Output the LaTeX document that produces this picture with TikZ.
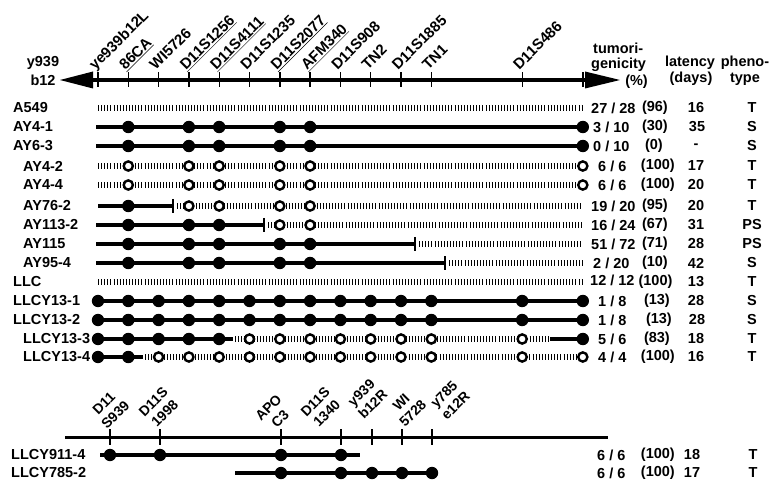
\documentclass[tikz,border=0pt]{standalone}
\usepackage{fontspec}
\setmainfont{Liberation Sans}
\tikzset{
  solidln/.style={line width=4.8pt},
  hatchln/.style={line width=5.5pt, dash pattern=on 1pt off 2.1pt},
  odot/.style={draw=black, line width=2.4pt, fill=white},
  endbar/.style={line width=2.6pt},
  axisln/.style={line width=3.4pt},
  tickln/.style={line width=1.4pt},
  rowlbl/.style={font=\bfseries\fontsize{14.5}{15}\selectfont, inner sep=0pt, anchor=west},
  txt/.style={font=\bfseries\fontsize{14.5}{15}\selectfont, inner sep=0pt},
  mk/.style={font=\bfseries\fontsize{15}{15}\selectfont, inner sep=0pt, rotate=45, anchor=base west},
  mktwo/.style={font=\bfseries\fontsize{14}{14}\selectfont, inner sep=0pt, rotate=45},
}
\newcommand\FillDots[2]{\foreach \k in {#2} {\fill ({98+30.3*\k},#1) circle (6.2pt);}}
\newcommand\OpenDots[2]{\foreach \k in {#2} {\draw[odot] ({98+30.3*\k},#1) circle (4.6pt);}}
\begin{document}
\begin{tikzpicture}[x=1pt,y=-1pt]
\useasboundingbox (0,0) rectangle (781,486);
% ---------- top axis ----------
\coordinate (axL) at (92,80);
\coordinate (axR) at (586,80);
\draw[axisln] (axL) -- (axR);
\fill (60,80) -- (93,71.5) -- (93,88.5) -- cycle;
\fill (620,80) -- (585,71.5) -- (585,88.5) -- cycle;
\foreach \k in {0,...,11,14,16} {\draw[tickln] ({98+30.3*\k},72.5) -- ({98+30.3*\k},87.5);}
\node[txt] (ya) at (43,63) {y939};
\node[txt] (yb) at (43,80) {b12};
% marker labels
\node[mk] (m0) at ({98+30.3*0-3},71) {ye939b12L};
\node[mk] (m1) at ({98+30.3*1-3},71) {\underline{86CA}};
\node[mk] (m2) at ({98+30.3*2-3},71) {WI5726};
\node[mk] (m3) at ({98+30.3*3-3},71) {\underline{D11S1256}};
\node[mk] (m4) at ({98+30.3*4-3},71) {\underline{D11S4111}};
\node[mk] (m5) at ({98+30.3*5-3},71) {D11S1235};
\node[mk] (m6) at ({98+30.3*6-3},71) {\underline{D11S2077}};
\node[mk] (m7) at ({98+30.3*7-3},71) {\underline{AFM340}};
\node[mk] (m8) at ({98+30.3*8-3},71) {D11S908};
\node[mk] (m9) at ({98+30.3*9-3},71) {TN2};
\node[mk] (m10) at ({98+30.3*10-3},71) {D11S1885};
\node[mk] (m11) at ({98+30.3*11-3},71) {TN1};
\node[mk] (m14) at ({98+30.3*14-3},71) {D11S486};
% column headers
\node[txt, anchor=west] (h1) at (593,48) {tumori-};
\node[txt, anchor=west] (h2) at (591,65) {genicity};
\node[txt, anchor=east] (h3) at (648,82) {(\%)};
\node[txt] (h4) at (690,63) {latency};
\node[txt] (h5) at (691,79) {(days)};
\node[txt] (h6) at (745,63) {pheno-};
\node[txt] (h7) at (745,79) {type};
% ---------- rows ----------
\node[rowlbl] (r1) at (13,108) {A549};
\draw[hatchln] (98,108) -- (583,108);
\node[rowlbl] (r2) at (13,127) {AY4-1};
\draw[solidln] (96,127) -- (583,127);
\FillDots{127}{1,3,4,6,7,16}
\node[rowlbl] (r3) at (13,146) {AY6-3};
\draw[solidln] (96,146) -- (583,146);
\FillDots{146}{1,3,4,6,7,16}
\node[rowlbl] (r4) at (23,166) {AY4-2};
\draw[hatchln] (98,166) -- (583,166);
\OpenDots{166}{1,3,4,6,7,16}
\node[rowlbl] (r5) at (23,185) {AY4-4};
\draw[hatchln] (98,185) -- (583,185);
\OpenDots{185}{1,3,4,6,7,16}
\node[rowlbl] (r6) at (23,206) {AY76-2};
\draw[solidln] (98,206) -- (173,206);
\draw[endbar] (173,199) -- (173,213);
\draw[hatchln] (177,206) -- (583,206);
\FillDots{206}{1}
\OpenDots{206}{3,4,6,7}
\node[rowlbl] (r7) at (23,225) {AY113-2};
\draw[solidln] (96,225) -- (264,225);
\draw[endbar] (264,218) -- (264,232);
\draw[hatchln] (268,225) -- (583,225);
\FillDots{225}{1,3,4}
\OpenDots{225}{6,7}
\node[rowlbl] (r8) at (23,244) {AY115};
\draw[solidln] (96,244) -- (415,244);
\draw[endbar] (415,237) -- (415,251);
\draw[hatchln] (419,244) -- (583,244);
\FillDots{244}{1,3,4,6,7}
\node[rowlbl] (r9) at (23,263) {AY95-4};
\draw[solidln] (96,263) -- (445,263);
\draw[endbar] (445,256) -- (445,270);
\draw[hatchln] (449,263) -- (583,263);
\FillDots{263}{1,3,4,6,7}
\node[rowlbl] (r10) at (13,282) {LLC};
\draw[hatchln] (98,282) -- (583,282);
\node[rowlbl] (r11) at (13,301) {LLCY13-1};
\draw[solidln] (98,301) -- (583,301);
\FillDots{301}{0,...,11,14,16}
\node[rowlbl] (r12) at (13,320) {LLCY13-2};
\draw[solidln] (98,320) -- (583,320);
\FillDots{320}{0,...,11,14,16}
\node[rowlbl] (r13) at (23,339) {LLCY13-3};
\draw[solidln] (98,339) -- (233,339);
\draw[hatchln] (235,339) -- (550,339);
\draw[solidln] (550,339) -- (583,339);
\FillDots{339}{0,...,4,16}
\OpenDots{339}{5,...,11,14}
\node[rowlbl] (r14) at (23,357) {LLCY13-4};
\draw[solidln] (98,357) -- (143,357);
\draw[hatchln] (145,357) -- (583,357);
\FillDots{357}{0,1}
\OpenDots{357}{2,...,11,14,16}
% ---------- numbers ----------
\node[txt, anchor=west] (f1) at (591,108) {27 / 28};
\node[txt, anchor=east] (p1) at (668,108) {(96)};
\node[txt] (l1) at (696,108) {16};
\node[txt] (t1) at (752,108) {T};
\node[txt, anchor=west] (f2) at (593,127) {3 / 10};
\node[txt, anchor=east] (p2) at (668,127) {(30)};
\node[txt] (l2) at (697,127) {35};
\node[txt] (t2) at (752,127) {S};
\node[txt, anchor=west] (f3) at (593,146) {0 / 10};
\node[txt, anchor=east] (p3) at (663,146) {(0)};
\node[txt] (l3) at (696,146) {-};
\node[txt] (t3) at (752,146) {S};
\node[txt, anchor=west] (f4) at (598,166) {6 / 6};
\node[txt, anchor=east] (p4) at (675,166) {(100)};
\node[txt] (l4) at (696,166) {17};
\node[txt] (t4) at (752,166) {T};
\node[txt, anchor=west] (f5) at (598,185) {6 / 6};
\node[txt, anchor=east] (p5) at (675,185) {(100)};
\node[txt] (l5) at (696,185) {20};
\node[txt] (t5) at (752,185) {T};
\node[txt, anchor=west] (f6) at (591,206) {19 / 20};
\node[txt, anchor=east] (p6) at (668,206) {(95)};
\node[txt] (l6) at (696,206) {20};
\node[txt] (t6) at (752,206) {T};
\node[txt, anchor=west] (f7) at (591,225) {16 / 24};
\node[txt, anchor=east] (p7) at (668,225) {(67)};
\node[txt] (l7) at (696,225) {31};
\node[txt] (t7) at (752,225) {PS};
\node[txt, anchor=west] (f8) at (591,244) {51 / 72};
\node[txt, anchor=east] (p8) at (668,244) {(71)};
\node[txt] (l8) at (696,244) {28};
\node[txt] (t8) at (752,244) {PS};
\node[txt, anchor=west] (f9) at (593,263) {2 / 20};
\node[txt, anchor=east] (p9) at (668,263) {(10)};
\node[txt] (l9) at (696,263) {42};
\node[txt] (t9) at (752,263) {S};
\node[txt, anchor=west] (f10) at (590,282) {12 / 12 (100)};
\node[txt] (l10) at (696,282) {13};
\node[txt] (t10) at (752,282) {T};
\node[txt, anchor=west] (f11) at (598,301) {1 / 8};
\node[txt, anchor=east] (p11) at (670,301) {(13)};
\node[txt] (l11) at (696,301) {28};
\node[txt] (t11) at (752,301) {S};
\node[txt, anchor=west] (f12) at (598,320) {1 / 8};
\node[txt, anchor=east] (p12) at (672,320) {(13)};
\node[txt] (l12) at (697,320) {28};
\node[txt] (t12) at (752,320) {S};
\node[txt, anchor=west] (f13) at (598,339) {5 / 6};
\node[txt, anchor=east] (p13) at (670,339) {(83)};
\node[txt] (l13) at (696,339) {18};
\node[txt] (t13) at (752,339) {T};
\node[txt, anchor=west] (f14) at (598,357) {4 / 4};
\node[txt, anchor=east] (p14) at (675,357) {(100)};
\node[txt] (l14) at (696,357) {16};
\node[txt] (t14) at (752,357) {T};
% ---------- bottom map ----------
\coordinate (bL) at (65,437);
\coordinate (bR) at (608,437);
\draw[line width=3pt] (bL) -- (bR);
\foreach \x in {110,160,281,341,372,402,432} {\draw[tickln] (\x,429) -- (\x,445);}
\foreach \n/\sx/\sy/\la/\lb in {1/107/430/D11/S939, 2/157/428/D11S/1998, 3/277/429/APO/C3, 4/319/428/D11S/1340, 5/364/420/y939/b12R, 6/405/428/WI/5728, 7/447/421/y785/e12R} {
  \node[mktwo, anchor=base west] (bb\n) at (\sx,\sy) {\lb};
  \node[mktwo, anchor=base] (ba\n) at ([shift={(-11.5,-11.5)}]bb\n.base) {\la};
}
\node[rowlbl] (r15) at (11,455) {LLCY911-4};
\draw[solidln] (100,455) -- (360,455);
\foreach \x in {110,160,281,341} {\fill (\x,455) circle (6.2pt);}
\node[rowlbl] (r16) at (11,473) {LLCY785-2};
\draw[solidln] (235,473) -- (432,473);
\foreach \x in {281,341,372,402,432} {\fill (\x,473) circle (6.2pt);}
\node[txt, anchor=west] (f15) at (597,455) {6 / 6};
\node[txt, anchor=east] (p15) at (675,455) {(100)};
\node[txt] (l15) at (692,455) {18};
\node[txt] (t15) at (753,455) {T};
\node[txt, anchor=west] (f16) at (597,473) {6 / 6};
\node[txt, anchor=east] (p16) at (675,473) {(100)};
\node[txt] (l16) at (692,473) {17};
\node[txt] (t16) at (753,473) {T};
\end{tikzpicture}
\end{document}
